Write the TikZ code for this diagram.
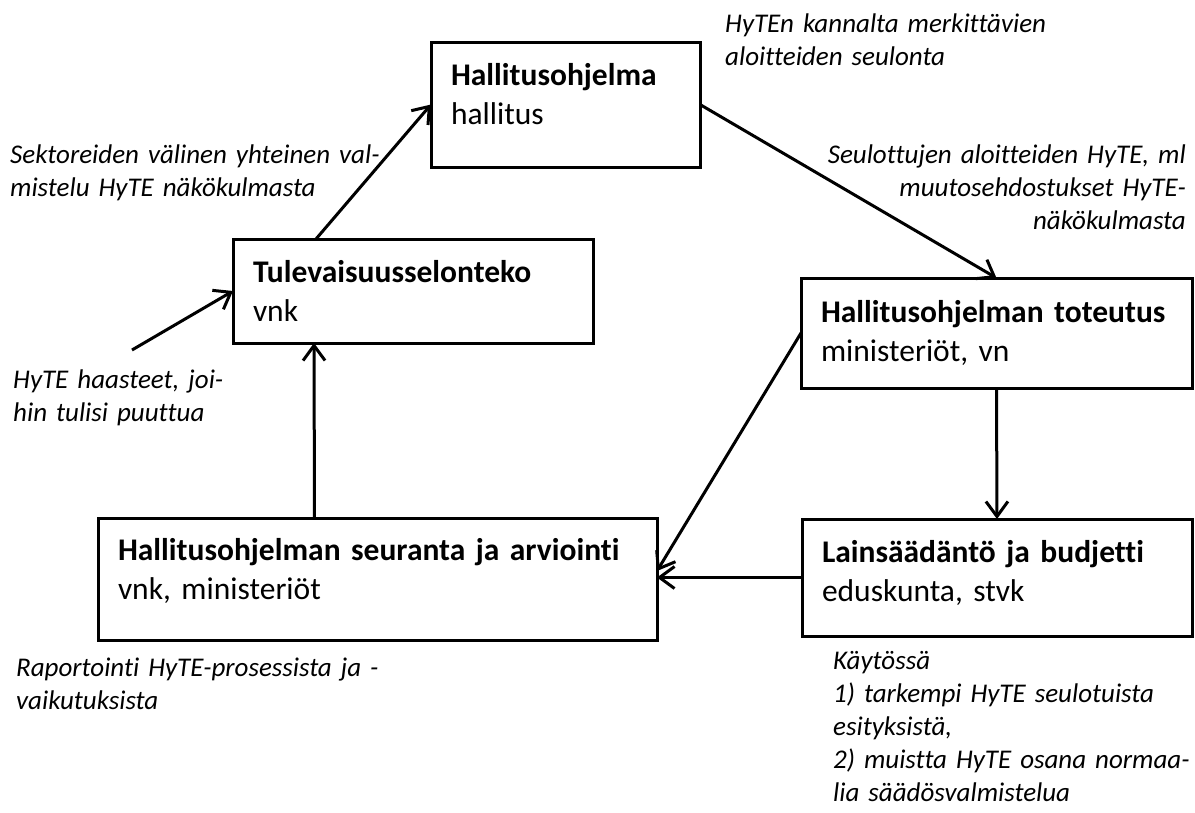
\documentclass[tikz,border=0pt]{standalone}
\usepackage{fontspec}
\setmainfont{Carlito}[Ligatures={NoCommon,NoRequired,NoContextual}]
\usetikzlibrary{arrows.meta}

\tikzset{
  stage/.style={draw, line width=3pt, outer sep=0pt, anchor=north west, align=left,
    inner xsep=20pt, inner ysep=0pt, text height=43pt, font=\fontsize{31.5}{39}\selectfont},
  note/.style={inner sep=0pt, text width=460pt, align=left, font=\fontsize{27}{33}\selectfont\itshape},
  flow/.style={line width=3pt, -{Straight Barb[length=15pt,width=22pt]}},
}

\begin{document}
\begin{tikzpicture}[x=1pt,y=-1pt]
\useasboundingbox (0,0) rectangle (1195,812);

% the five stages
\node[stage, text width=229pt, text depth=82pt] (ohjelma) at (431,42) {\textbf{Hallitusohjelma}\\hallitus};
\node[stage, text width=320pt, text depth=61pt] (tulev) at (233,239) {\textbf{Tulevaisuusselonteko}\\vnk};
\node[stage, text width=351pt, text height=44pt, text depth=66pt] (toteutus) at (801,278) {\textbf{Hallitusohjelman toteutus}\\ministeriöt, vn};
\node[stage, text width=519pt, text height=42pt, text depth=80pt] (seuranta) at (98,518) {\textbf{Hallitusohjelman seuranta ja arviointi}\\vnk, ministeriöt};
\node[stage, text width=350pt, text depth=74pt] (lains) at (802,519) {\textbf{Lainsäädäntö ja budjetti}\\eduskunta, stvk};

% notes
\node[note, anchor=base west] (seulonta) at (725,32) {HyTEn kannalta merkittävien\\aloitteiden seulonta};
\node[note, anchor=base west] (valmistelu) at (10,163) {Sektoreiden välinen yhteinen val-\\mistelu HyTE näkökulmasta};
\node[note, anchor=base east, align=right] (muutos) at (1186,163) {Seulottujen aloitteiden HyTE, ml\\muutosehdostukset HyTE-\\näkökulmasta};
\node[note, anchor=base west] (haasteet) at (13,388) {HyTE haasteet, joi-\\hin tulisi puuttua};
\node[note, anchor=base west] (raportointi) at (16,676) {Raportointi HyTE-prosessista ja -\\vaikutuksista};
\node[note, anchor=base west] (kaytossa) at (833,669) {Käytössä\\1) tarkempi HyTE seulotuista\\esityksistä,\\2) muistta HyTE osana normaa-\\lia säädösvalmistelua};

% arrows
\coordinate (haaste) at (132,350);
\draw[flow] ([xshift=-97pt]tulev.north) -- (ohjelma.west);
\draw[flow] (haaste) -- (tulev.west);
\draw[flow] ([xshift=-63pt]seuranta.north) -- ([xshift=-99pt]tulev.south);
\draw[flow] (ohjelma.east) -- (toteutus.north);
\draw[flow] (toteutus.south) -- (lains.north);
\draw[flow] (lains.west) -- (lains.west -| seuranta.east);
\draw[flow] (toteutus.west) -- ([yshift=8pt]seuranta.east);

\end{tikzpicture}
\end{document}
